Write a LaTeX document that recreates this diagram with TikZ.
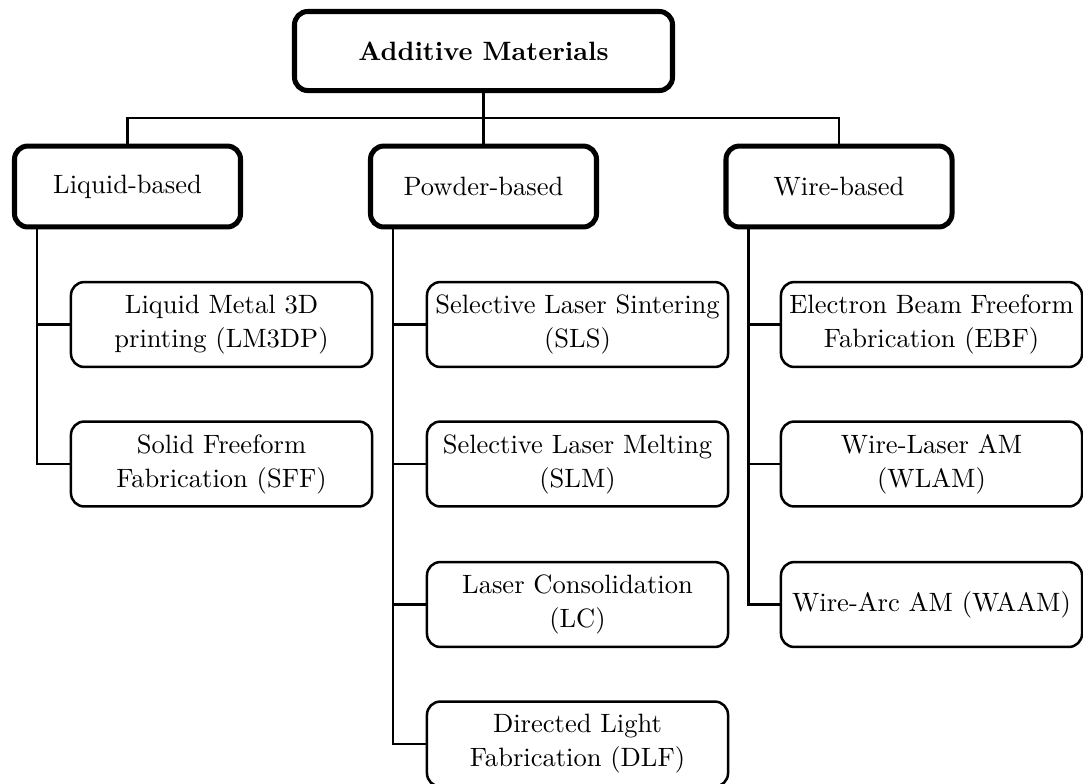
\documentclass[tikz,border=0pt]{standalone}
\usetikzlibrary{calc}
\tikzset{
  rootbox/.style={draw, line width=1.9pt, rounded corners=5pt, inner sep=0pt,
    minimum width=142.5pt, minimum height=29.8pt, font=\bfseries},
  catbox/.style={draw, line width=1.9pt, rounded corners=5pt, inner sep=0pt,
    minimum width=85.2pt, minimum height=30.5pt},
  leafbox/.style={draw, line width=0.95pt, rounded corners=5pt, inner sep=0pt,
    minimum width=113.5pt, minimum height=32pt, align=center,
    font={\fontsize{10}{12.8}\selectfont}},
  link/.style={line width=0.95pt}
}
\begin{document}
\begin{tikzpicture}[x=0.377pt,y=-0.377pt]
\useasboundingbox (0,0) rectangle (1083,783);

\node[rootbox] (root) at (483.5,51) {Additive Materials};

\node[catbox] (liquid) at (127.5,186.5) {Liquid-based};
\node[catbox] (powder) at (483.5,186.5) {Powder-based};
\node[catbox] (wire)   at (839,186.5) {Wire-based};

\node[leafbox] (lm3dp) at (221.5,324.5) {Liquid Metal 3D\\printing (LM3DP)};
\node[leafbox] (sff)   at (221.5,464)   {Solid Freeform\\Fabrication (SFF)};

\node[leafbox] (sls) at (577.5,324.5) {Selective Laser Sintering\\(SLS)};
\node[leafbox] (slm) at (577.5,464)   {Selective Laser Melting\\(SLM)};
\node[leafbox] (lc)  at (577.5,604.5) {Laser Consolidation\\(LC)};
\node[leafbox] (dlf) at (577.5,744)   {Directed Light\\Fabrication (DLF)};

\node[leafbox] (ebf)  at (931.5,324.5) {Electron Beam Freeform\\Fabrication (EBF)};
\node[leafbox] (wlam) at (931.5,464)   {Wire-Laser AM\\(WLAM)};
\node[leafbox] (waam) at (931.5,604.5) {Wire-Arc AM (WAAM)};

% top-level bus
\draw[link] (root.south) -- ($(root.south)+(0,25)$) coordinate (bus);
\draw[link] (liquid.north) |- (bus) -| (wire.north);
\draw[link] (bus) -- (powder.north);

% trunks
\coordinate (lt) at ($(liquid.south west)+(25,0)$);
\coordinate (pt) at ($(powder.south west)+(25,0)$);
\coordinate (wt) at ($(wire.south west)+(25,0)$);

\draw[link] (lt) |- (sff.west);
\draw[link] (lm3dp.west) -- (lm3dp.west -| lt);

\draw[link] (pt) |- (dlf.west);
\draw[link] (sls.west) -- (sls.west -| pt);
\draw[link] (slm.west) -- (slm.west -| pt);
\draw[link] (lc.west) -- (lc.west -| pt);

\draw[link] (wt) |- (waam.west);
\draw[link] (ebf.west) -- (ebf.west -| wt);
\draw[link] (wlam.west) -- (wlam.west -| wt);
\end{tikzpicture}
\end{document}
